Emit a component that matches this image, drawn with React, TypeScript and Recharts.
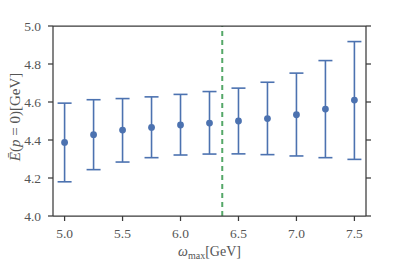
import React from "react";
import { ScatterChart, Scatter, XAxis, YAxis, ErrorBar, ReferenceLine } from "recharts";

const omega = [5.0, 5.25, 5.5, 5.75, 6.0, 6.25, 6.5, 6.75, 7.0, 7.25, 7.5];
const energy = [4.387, 4.428, 4.452, 4.466, 4.479, 4.489, 4.5, 4.513, 4.533, 4.563, 4.61];
const upper = [4.594, 4.612, 4.618, 4.627, 4.64, 4.655, 4.673, 4.704, 4.752, 4.818, 4.918];
const lower = [4.18, 4.244, 4.284, 4.307, 4.321, 4.326, 4.327, 4.323, 4.316, 4.307, 4.298];

const xTicks = [5.0, 5.5, 6.0, 6.5, 7.0, 7.5];
const yTicks = [4.0, 4.2, 4.4, 4.6, 4.8, 5.0];
const cutoff = 6.36;

const data = omega.map((x, i) => ({
    x,
    y: energy[i],
    err: [energy[i] - lower[i], upper[i] - energy[i]],
}));

const BLUE = "#4c72b0";
const AXIS = "#3a3a3a";
const TEXT = "#555555";
const FONT = "'Liberation Serif', 'DejaVu Serif', serif";

const tickStyle = { fill: TEXT, fontSize: 13.5, fontFamily: FONT };
const fmt = (v: number) => v.toFixed(1);
const noTick = () => <g />;

const Dot = (props: any) => <circle cx={props.cx} cy={props.cy} r={3.4} fill={BLUE} />;

const XLabel = () => (
    <text x={209.5} y={256} textAnchor="middle" fill={TEXT} fontFamily={FONT} fontSize={14}>
        <tspan fontStyle="italic">ω</tspan>
        <tspan fontSize={10} dy={3}>max</tspan>
        <tspan dy={-3}>[GeV]</tspan>
    </text>
);

const YLabel = () => (
    <text
        x={0}
        y={0}
        transform="translate(20,117) rotate(-90)"
        textAnchor="middle"
        fill={TEXT}
        fontFamily={FONT}
        fontSize={15}
    >
        <tspan fontStyle="italic">{"E\u0304"}</tspan>
        <tspan>(</tspan>
        <tspan fontStyle="italic">p</tspan>
        <tspan> = 0)[GeV]</tspan>
    </text>
);

export default function App() {
    return (
        <div style={{ position: "absolute", left: 0, top: 0, background: "#fff" }}>
            <ScatterChart width={407} height={271} margin={{ top: 0, right: 0, bottom: 0, left: 0 }}>
                <XAxis
                    xAxisId="b"
                    type="number"
                    dataKey="x"
                    domain={[4.9, 7.6]}
                    ticks={xTicks}
                    tickFormatter={fmt}
                    allowDataOverflow
                    height={55}
                    tickSize={5}
                    tickMargin={7}
                    stroke={AXIS}
                    strokeWidth={1.25}
                    tick={tickStyle}
                    label={<XLabel />}
                />
                <XAxis
                    xAxisId="t"
                    orientation="top"
                    type="number"
                    domain={[4.9, 7.6]}
                    ticks={xTicks}
                    allowDataOverflow
                    height={26}
                    tickSize={5}
                    stroke={AXIS}
                    strokeWidth={1.25}
                    tick={noTick}
                />
                <YAxis
                    yAxisId="l"
                    type="number"
                    dataKey="y"
                    domain={[4.0, 5.0]}
                    ticks={yTicks}
                    tickFormatter={fmt}
                    allowDataOverflow
                    width={53}
                    tickSize={5}
                    tickMargin={7}
                    stroke={AXIS}
                    strokeWidth={1.25}
                    tick={tickStyle}
                    label={<YLabel />}
                />
                <YAxis
                    yAxisId="r"
                    orientation="right"
                    type="number"
                    domain={[4.0, 5.0]}
                    ticks={yTicks}
                    allowDataOverflow
                    width={41}
                    tickSize={5}
                    stroke={AXIS}
                    strokeWidth={1.25}
                    tick={noTick}
                />
                <ReferenceLine
                    xAxisId="b"
                    yAxisId="l"
                    x={cutoff}
                    stroke="#55a868"
                    strokeWidth={2}
                    strokeDasharray="5 4"
                />
                <Scatter xAxisId="b" yAxisId="l" data={data} shape={<Dot />} isAnimationActive={false}>
                    <ErrorBar
                        dataKey="err"
                        direction="y"
                        width={7}
                        stroke={BLUE}
                        strokeWidth={1.6}
                        isAnimationActive={false}
                    />
                </Scatter>
            </ScatterChart>
        </div>
    );
}
